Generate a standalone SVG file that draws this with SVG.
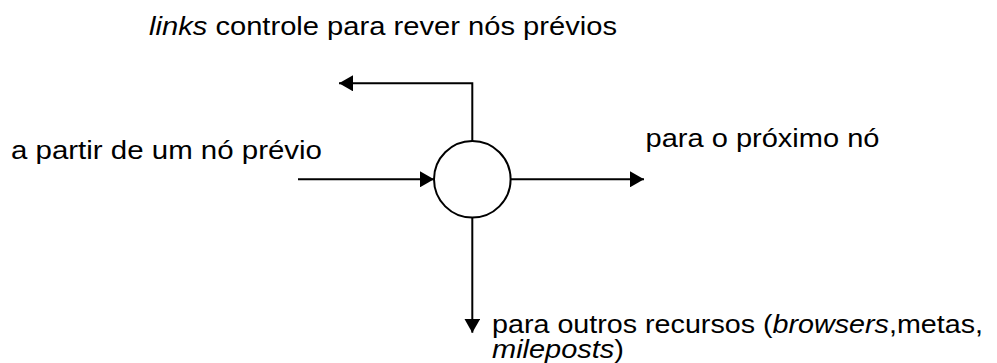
<svg xmlns="http://www.w3.org/2000/svg" width="997" height="363" viewBox="0 0 997 363">
<defs>
<style>
text{font-family:"Liberation Sans",Arial,sans-serif;font-size:26px;fill:#000}
.it{font-style:italic}
.ln{stroke:#000;stroke-width:2;fill:none}
</style>
<marker id="ah" viewBox="0 0 14 16" refX="14" refY="8" markerWidth="14" markerHeight="16" markerUnits="userSpaceOnUse" orient="auto">
<path d="M0,0 L14,8 L0,16 Z" fill="#000"/>
</marker>
</defs>
<g id="connectors">
<path class="ln" d="M472.3,141 V83.3 H339" marker-end="url(#ah)"/>
<path class="ln" d="M298,179.3 H434" marker-end="url(#ah)"/>
<path class="ln" d="M510.7,179.3 H644" marker-end="url(#ah)"/>
<path class="ln" d="M472.3,217.7 V332.7" marker-end="url(#ah)"/>
</g>
<g id="node">
<circle cx="472.3" cy="179.3" r="38.3" fill="#fff" stroke="#000" stroke-width="2"/>
</g>
<g id="labels">
<text x="149" y="35" textLength="468" lengthAdjust="spacingAndGlyphs"><tspan class="it">links</tspan> controle para rever nós prévios</text>
<text x="11" y="159" textLength="311" lengthAdjust="spacingAndGlyphs">a partir de um nó prévio</text>
<text x="645.5" y="147.3" textLength="234" lengthAdjust="spacingAndGlyphs">para o próximo nó</text>
<text x="492" y="333.3" textLength="491" lengthAdjust="spacingAndGlyphs">para outros recursos (<tspan class="it">browsers</tspan>,metas,</text>
<text x="492" y="357.8" textLength="132" lengthAdjust="spacingAndGlyphs"><tspan class="it">mileposts</tspan>)</text>
</g>
</svg>
